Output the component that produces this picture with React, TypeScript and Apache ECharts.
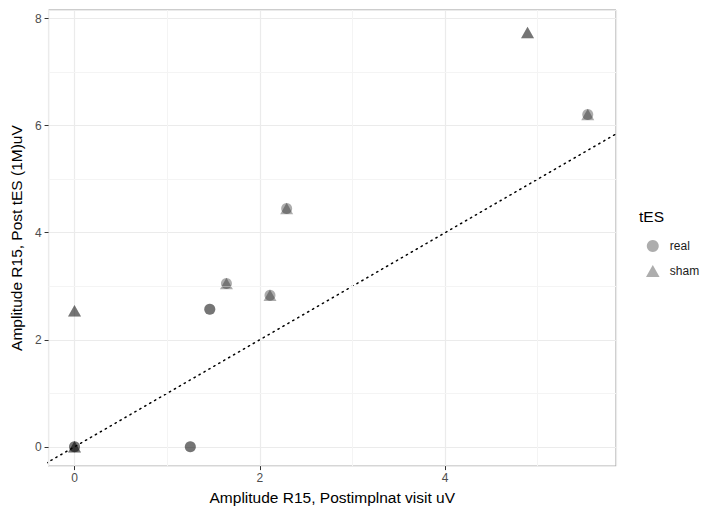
import React, { useEffect, useRef } from "react";
import * as echarts from "echarts";

// Layer 1 (legend layer)
const realPoints: number[][] = [
  [1.46, 2.57],
  [1.25, 0],
  [0, 0],
];
const shamPoints: number[][] = [
  [4.89, 7.74],
  [5.54, 6.21],
  [2.29, 4.45],
  [1.64, 3.05],
  [2.11, 2.83],
  [0, 2.54],
  [0, 0],
];
// Layer 2 (overlay layer)
const overlayCircles: number[][] = [
  [5.54, 6.21],
  [2.29, 4.45],
  [1.64, 3.05],
  [2.11, 2.83],
  [1.46, 2.57],
  [1.25, 0],
  [0, 0],
];
const overlayTriangles: number[][] = [
  [4.89, 7.74],
  [0, 2.54],
  [0, 0],
];
const identityLine: number[][] = [
  [-1, -1],
  [7, 7],
];
const xMinorLines = [1, 3, 5];
const yMinorLines = [1, 3, 5, 7];

const PT = "rgba(0,0,0,0.4)";
const CIRCLE = 11;
const TRI: [number, number] = [13, 11.5];

export default function App() {
  const ref = useRef<HTMLDivElement>(null);
  useEffect(() => {
    if (!ref.current) return;
    const chart = echarts.init(ref.current, null, { renderer: "svg" });
    const font = "Liberation Sans, Arial, sans-serif";
    const minorLineStyle = { color: "#f4f4f4", width: 1, type: "solid" as const };
    chart.setOption({
      animation: false,
      textStyle: { fontFamily: font },
      grid: {
        left: 45,
        right: 87,
        top: 10,
        bottom: 37,
        show: true,
        borderColor: "#9a9a9a",
        borderWidth: 1,
        backgroundColor: "#fff",
      },
      xAxis: {
        type: "value",
        min: -0.28,
        max: 5.845,
        splitNumber: 3,
        axisLine: { show: false, onZero: false },
        axisTick: { show: true, length: 4, lineStyle: { color: "#333" } },
        axisLabel: {
          showMinLabel: false,
          showMaxLabel: false,
          color: "#4d4d4d",
          fontSize: 12,
          margin: 6,
          fontFamily: font,
        },
        splitLine: { show: true, lineStyle: { color: "#ebebeb", width: 1.2 } },
        name: "Amplitude R15, Postimplnat visit uV",
        nameLocation: "middle",
        nameGap: 21,
        nameTextStyle: { color: "#000", fontSize: 15.5, fontFamily: font },
      },
      yAxis: {
        type: "value",
        min: -0.36,
        max: 8.16,
        splitNumber: 4,
        axisLine: { show: false, onZero: false },
        axisTick: { show: true, length: 4, lineStyle: { color: "#333" } },
        axisLabel: {
          showMinLabel: false,
          showMaxLabel: false,
          color: "#4d4d4d",
          fontSize: 12,
          margin: 7,
          fontFamily: font,
        },
        splitLine: { show: true, lineStyle: { color: "#ebebeb", width: 1.2 } },
        name: "Amplitude R15, Post tES (1M)uV",
        nameLocation: "middle",
        nameGap: 19,
        nameTextStyle: { color: "#000", fontSize: 15.5, fontFamily: font },
      },
      legend: {
        show: true,
        orient: "vertical",
        left: 641,
        top: 235,
        itemWidth: 24,
        itemHeight: 12,
        itemGap: 13,
        symbolKeepAspect: true,
        textStyle: { color: "#1a1a1a", fontSize: 12, fontFamily: font },
        data: [
          { name: "real", icon: "circle" },
          { name: "sham", icon: "path://M6.5,0 L13,11.5 L0,11.5 Z" },
        ],
      },
      graphic: [
        {
          type: "text",
          left: 639,
          top: 208,
          style: { text: "tES", fontSize: 15.5, fill: "#000", fontFamily: font },
        },
      ],
      series: [
        {
          name: "minor",
          type: "line",
          data: [],
          silent: true,
          markLine: {
            silent: true,
            symbol: ["none", "none"],
            label: { show: false },
            lineStyle: minorLineStyle,
            data: [
              ...xMinorLines.map((v) => ({ xAxis: v })),
              ...yMinorLines.map((v) => ({ yAxis: v })),
            ],
          },
          z: 1,
        },
        {
          name: "identity",
          type: "line",
          data: identityLine,
          showSymbol: false,
          clip: true,
          silent: true,
          lineStyle: { color: "#000", width: 1.5, type: [1.3, 4.4], cap: "round" },
          z: 3,
        },
        {
          name: "real",
          type: "scatter",
          data: realPoints,
          symbol: "circle",
          symbolSize: CIRCLE,
          itemStyle: { color: PT },
          z: 4,
        },
        {
          name: "sham",
          type: "scatter",
          data: shamPoints,
          symbol: "triangle",
          symbolSize: TRI,
          itemStyle: { color: PT },
          z: 4,
        },
        {
          name: "overlayCircle",
          type: "scatter",
          data: overlayCircles,
          symbol: "circle",
          symbolSize: CIRCLE,
          itemStyle: { color: PT },
          z: 5,
        },
        {
          name: "overlayTriangle",
          type: "scatter",
          data: overlayTriangles,
          symbol: "triangle",
          symbolSize: TRI,
          itemStyle: { color: PT },
          z: 5,
        },
      ],
    });
    return () => chart.dispose();
  }, []);
  return <div ref={ref} style={{ width: 703, height: 510, position: "absolute", left: 0, top: 0 }} />;
}
